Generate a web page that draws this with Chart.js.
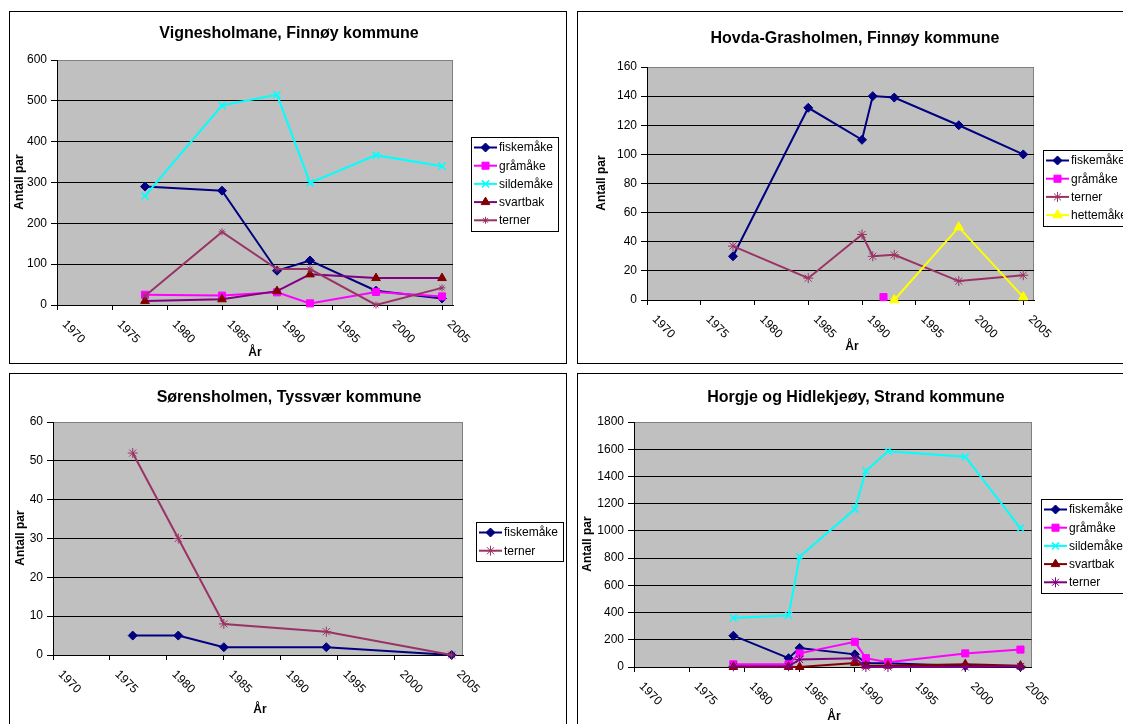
<!DOCTYPE html>
<html>
<head>
<meta charset="utf-8">
<title>Antall par – sjøfugl</title>
<script src="https://cdn.jsdelivr.net/npm/chart.js@4/dist/chart.umd.min.js"></script>
<style>
  html, body { margin: 0; padding: 0; background: #fff; overflow: hidden; width: 1123px; height: 724px; }
  .panel { position: absolute; border: 1px solid #000; background: #fff; width: 556px; height: 351px; }
  .panel canvas { display: block; }
</style>
</head>
<body>
<div class="panel" style="left:9px;top:11px"><canvas id="c1" width="556" height="351"></canvas></div>
<div class="panel" style="left:577px;top:11px"><canvas id="c2" width="556" height="351"></canvas></div>
<div class="panel" style="left:9px;top:373px"><canvas id="c3" width="556" height="351"></canvas></div>
<div class="panel" style="left:577px;top:373px"><canvas id="c4" width="556" height="351"></canvas></div>
<script>
const FONT = '"Liberation Sans", Arial, Helvetica, sans-serif';
const yearTicks = [1970, 1975, 1980, 1985, 1990, 1995, 2000, 2005];

// Vignesholmane, Finnøy kommune
const vigYears = [1978, 1985, 1990, 1993, 1999, 2005];
const vigFiskemake = [290, 280, 84, 109, 35, 16];
const vigGramake = [25, 23, 31, 4, 32, 21];
const vigSildemake = [267, 489, 515, 299, 367, 340];
const vigSvartbak = [10, 14, 34, 75, 66, 66];
const vigTerner = [22, 179, 88, 88, 0, 42];

// Hovda-Grasholmen, Finnøy kommune
const hovYears = [1978, 1985, 1990, 1991, 1993, 1999, 2005];
const hovFiskemake = [30, 132, 110, 140, 139, 120, 100];
const hovTerner = [37, 15, 45, 30, 31, 13, 17];
const hovGramakeYears = [1992];
const hovGramake = [2];
const hovHettemakeYears = [1993, 1999, 2005];
const hovHettemake = [0, 50, 2];

// Sørensholmen, Tyssvær kommune
const sorYears = [1977, 1981, 1985, 1994, 2005];
const sorFiskemake = [5, 5, 2, 2, 0];
const sorTerner = [52, 30, 8, 6, 0];

// Horgje og Hidlekjeøy, Strand kommune
const horYears = [1979, 1984, 1985, 1990, 1991, 1993, 2000, 2005];
const horFiskemake = [230, 65, 140, 93, 30, 28, 8, 2];
const horGramake = [20, 20, 100, 185, 65, 35, 100, 128];
const horSildemake = [360, 380, 810, 1160, 1440, 1585, 1545, 1020];
const horSvartbak = [0, 0, 0, 30, 10, 10, 20, 10];
const horTerner = [5, 5, 55, 65, 0, 0, 0, 5];

// Series styles
const STYLE = {
  fiskemake: { borderColor: '#000080', pointBackgroundColor: '#000080', pointBorderColor: '#000080', pointStyle: 'rectRot', pointRadius: 4.5, pointBorderWidth: 1 },
  gramake:   { borderColor: '#FF00FF', pointBackgroundColor: '#FF00FF', pointBorderColor: '#FF00FF', pointStyle: 'rect', pointRadius: 5, pointBorderWidth: 1 },
  sildemake: { borderColor: '#00FFFF', pointBackgroundColor: '#00FFFF', pointBorderColor: '#00FFFF', pointStyle: 'crossRot', pointRadius: 5, pointBorderWidth: 1.5 },
  svartbak:  { borderColor: '#800080', pointBackgroundColor: '#800000', pointBorderColor: '#800000', pointStyle: 'triangle', pointRadius: 5, pointBorderWidth: 1 },
  svartbakR: { borderColor: '#800000', pointBackgroundColor: '#800000', pointBorderColor: '#800000', pointStyle: 'triangle', pointRadius: 5, pointBorderWidth: 1 },
  terner:    { borderColor: '#993366', pointBackgroundColor: '#993366', pointBorderColor: '#993366', pointStyle: 'star', pointRadius: 4.5, pointBorderWidth: 1 },
  ternerP:   { borderColor: '#800080', pointBackgroundColor: '#800080', pointBorderColor: '#800080', pointStyle: 'star', pointRadius: 5, pointBorderWidth: 1 },
  hettemake: { borderColor: '#FFFF00', pointBackgroundColor: '#FFFF00', pointBorderColor: '#FFFF00', pointStyle: 'triangle', pointRadius: 5.5, pointBorderWidth: 1 }
};

function series(label, years, values, style) {
  return Object.assign({ label, data: years.map((x, i) => ({ x, y: values[i] })) }, style);
}

const W = 556, H = 351;

function panelPlugin(cfg) {
  return {
    id: 'panelDecor',
    beforeDraw(chart) {
      const { ctx, chartArea: a } = chart;
      ctx.save();
      ctx.fillStyle = '#C0C0C0';
      ctx.fillRect(a.left, a.top, a.right - a.left, a.bottom - a.top);
      ctx.strokeStyle = '#808080';
      ctx.lineWidth = 1;
      ctx.strokeRect(Math.round(a.left) + 0.5, Math.round(a.top) + 0.5, Math.round(a.right - a.left) - 1, Math.round(a.bottom - a.top));
      ctx.restore();
    },
    afterDraw(chart) {
      const { ctx, chartArea: a } = chart;
      const xs = chart.scales.x;
      const P = cfg.pos;
      ctx.save();
      ctx.fillStyle = '#000';

      // title
      ctx.font = 'bold 16px ' + FONT;
      ctx.textAlign = 'center';
      ctx.textBaseline = 'alphabetic';
      ctx.fillText(cfg.title, P.titleX, P.titleY);

      // year labels, slanted downwards
      ctx.font = '12px ' + FONT;
      ctx.textAlign = 'left';
      ctx.textBaseline = 'middle';
      yearTicks.forEach(v => {
        const px = xs.getPixelForValue(v);
        ctx.save();
        ctx.translate(px + 7, a.bottom + 17.5);
        ctx.rotate(Math.PI / 4);
        ctx.fillText(String(v), 0, 0);
        ctx.restore();
      });

      // axis titles
      ctx.font = 'bold 12px ' + FONT;
      ctx.textAlign = 'center';
      ctx.textBaseline = 'middle';
      ctx.fillText('År', P.xTitleX, P.xTitleY);
      ctx.save();
      ctx.translate(P.yTitleX, P.yTitleY);
      ctx.rotate(-Math.PI / 2);
      ctx.fillText('Antall par', 0, 0);
      ctx.restore();

      // legend box
      const ds = chart.data.datasets;
      const bx = P.legX, by = P.legY;
      const bw = 87, bh = 21 + 18.2 * (ds.length - 1);
      ctx.fillStyle = '#fff';
      ctx.fillRect(bx, by, bw, bh);
      ctx.strokeStyle = '#000';
      ctx.lineWidth = 1;
      ctx.strokeRect(Math.round(bx) + 0.5, Math.round(by) + 0.5, bw, Math.round(bh));
      ds.forEach((d, i) => {
        const ry = by + 10.5 + 18.2 * i;
        ctx.strokeStyle = d.borderColor;
        ctx.lineWidth = 2;
        ctx.beginPath();
        ctx.moveTo(bx + 3, ry);
        ctx.lineTo(bx + 26, ry);
        ctx.stroke();
        ctx.fillStyle = d.pointBackgroundColor;
        ctx.strokeStyle = d.pointBorderColor;
        ctx.lineWidth = d.pointBorderWidth;
        Chart.helpers.drawPoint(ctx, { pointStyle: d.pointStyle, radius: d.pointRadius, rotation: 0, borderWidth: d.pointBorderWidth }, bx + 14.5, ry);
        ctx.fillStyle = '#000';
        ctx.font = '12px ' + FONT;
        ctx.textAlign = 'left';
        ctx.textBaseline = 'middle';
        ctx.fillText(d.label, bx + 28, ry + 0.5);
      });
      ctx.restore();
    }
  };
}

function makeChart(id, cfg) {
  const L = cfg.area;
  const zero = s => { s.paddingLeft = 0; s.paddingRight = 0; s.paddingTop = 0; s.paddingBottom = 0; };
  return new Chart(document.getElementById(id), {
    type: 'line',
    data: {
      datasets: cfg.datasets.map((d, i) => Object.assign({
        order: -i, tension: 0, borderWidth: 2, fill: false, clip: false, showLine: true
      }, d))
    },
    options: {
      responsive: false,
      animation: false,
      events: [],
      layout: { padding: { top: L.top, right: W - L.right, bottom: 0, left: 0 } },
      plugins: { legend: { display: false }, title: { display: false }, tooltip: { enabled: false } },
      scales: {
        x: {
          type: 'linear', min: 1970, max: 2006,
          ticks: { display: false },
          grid: { display: true, drawOnChartArea: false, drawTicks: true, tickLength: 5, color: '#000', lineWidth: 1 },
          border: { display: true, color: '#000', width: 1 },
          afterBuildTicks: s => { s.ticks = yearTicks.map(v => ({ value: v })); },
          afterFit: s => { s.height = H - L.bottom; zero(s); }
        },
        y: {
          type: 'linear', min: 0, max: cfg.yMax,
          ticks: { stepSize: cfg.yStep, color: '#000', font: { family: FONT, size: 12 }, padding: 4, callback: v => String(v) },
          grid: {
            color: c => (c.tick && c.tick.value === cfg.yMax) ? '#808080' : '#000',
            tickColor: '#000', tickLength: 6, lineWidth: 1
          },
          border: { display: true, color: '#000', width: 1 },
          afterFit: s => { s.width = L.left; zero(s); }
        }
      }
    },
    plugins: [panelPlugin(cfg)]
  });
}

makeChart('c1', {
  title: 'Vignesholmane, Finnøy kommune',
  yMax: 600, yStep: 100,
  area: { left: 47, right: 443, top: 48, bottom: 293 },
  pos: { titleX: 279, titleY: 26, xTitleX: 245, xTitleY: 341, yTitleX: 10, yTitleY: 170, legX: 461, legY: 125 },
  datasets: [
    series('fiskemåke', vigYears, vigFiskemake, STYLE.fiskemake),
    series('gråmåke', vigYears, vigGramake, STYLE.gramake),
    series('sildemåke', vigYears, vigSildemake, STYLE.sildemake),
    series('svartbak', vigYears, vigSvartbak, STYLE.svartbak),
    series('terner', vigYears, vigTerner, Object.assign({}, STYLE.terner, { pointRadius: 3.5 }))
  ]
});

makeChart('c2', {
  title: 'Hovda-Grasholmen, Finnøy kommune',
  yMax: 160, yStep: 20,
  area: { left: 69, right: 456, top: 55, bottom: 288 },
  pos: { titleX: 277, titleY: 31, xTitleX: 274, xTitleY: 335, yTitleX: 24, yTitleY: 171, legX: 465, legY: 138 },
  datasets: [
    series('fiskemåke', hovYears, hovFiskemake, STYLE.fiskemake),
    series('gråmåke', hovGramakeYears, hovGramake, STYLE.gramake),
    series('terner', hovYears, hovTerner, Object.assign({}, STYLE.terner, { pointRadius: 5 })),
    series('hettemåke', hovHettemakeYears, hovHettemake, STYLE.hettemake)
  ]
});

makeChart('c3', {
  title: 'Sørensholmen, Tyssvær kommune',
  yMax: 60, yStep: 10,
  area: { left: 43, right: 453, top: 48, bottom: 281 },
  pos: { titleX: 279, titleY: 27.5, xTitleX: 250, xTitleY: 336, yTitleX: 11, yTitleY: 164, legX: 466, legY: 148 },
  datasets: [
    series('fiskemåke', sorYears, sorFiskemake, STYLE.fiskemake),
    series('terner', sorYears, sorTerner, Object.assign({}, STYLE.terner, { pointRadius: 5 }))
  ]
});

makeChart('c4', {
  title: 'Horgje og Hidlekjeøy, Strand kommune',
  yMax: 1800, yStep: 200,
  area: { left: 56, right: 453.5, top: 48, bottom: 293 },
  pos: { titleX: 278, titleY: 27.5, xTitleX: 256, xTitleY: 343, yTitleX: 10, yTitleY: 170, legX: 463, legY: 125 },
  datasets: [
    series('fiskemåke', horYears, horFiskemake, STYLE.fiskemake),
    series('gråmåke', horYears, horGramake, STYLE.gramake),
    series('sildemåke', horYears, horSildemake, STYLE.sildemake),
    series('svartbak', horYears, horSvartbak, STYLE.svartbakR),
    series('terner', horYears, horTerner, STYLE.ternerP)
  ]
});
</script>
</body>
</html>
